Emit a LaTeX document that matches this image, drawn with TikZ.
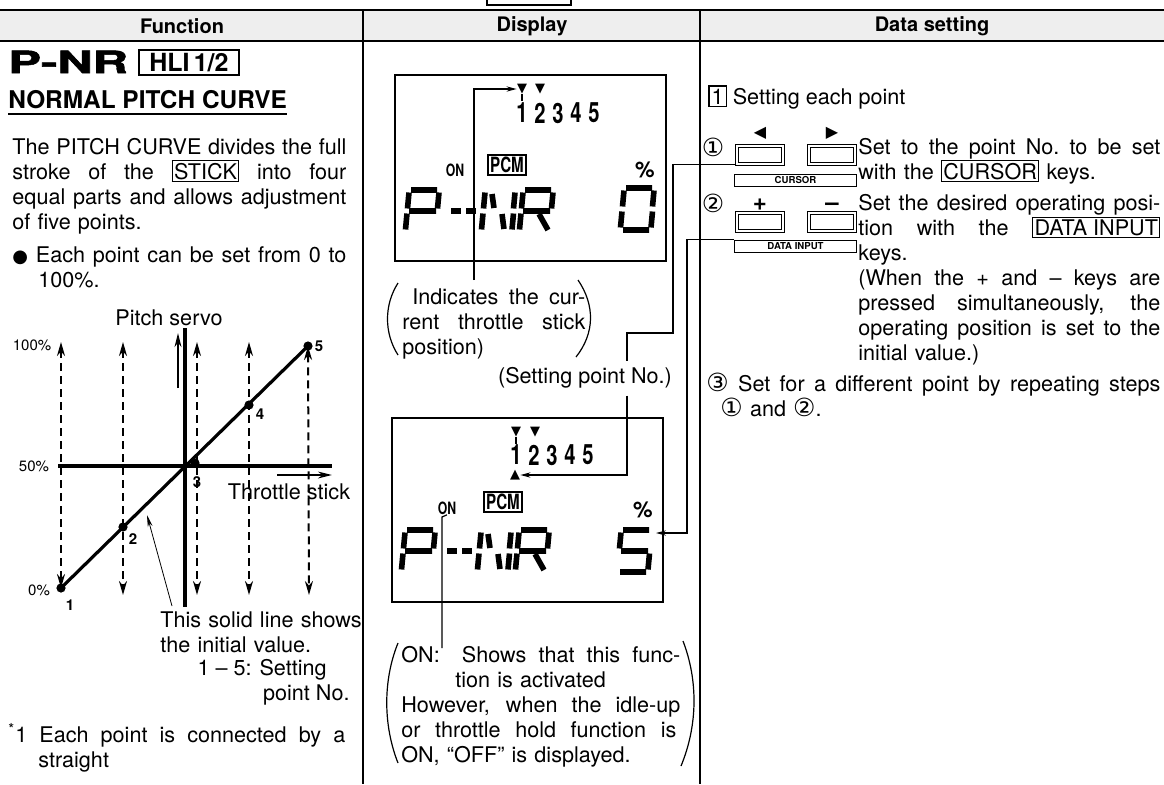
\documentclass[tikz,border=0pt]{standalone}
\usepackage{fontspec}
\setmainfont{TeX Gyre Heros}
\newfontfamily\symfont{DejaVu Sans}
\newfontfamily\blackfont{TeX Gyre Heros}[FakeBold=1.6]
\usetikzlibrary{arrows.meta,calc,positioning}

\newcommand{\keyname}[1]{{\fboxsep=0.7pt\fboxrule=0.5pt\fbox{#1}}}
\newcommand{\jline}[2]{{\spaceskip=0pt\xspaceskip=0pt\makebox[#1][s]{#2}}}
\newcommand{\narrow}[1]{\scalebox{0.72}[1]{#1}}
\newcommand{\circnum}[1]{{\symfont\fontsize{12.5}{12.5}\selectfont #1}}

% lcd segments of one glyph (34 x 42 units, y down)
\def\sga{(6,0)--(32,0)}
\def\sgb{(34,2.5)--(32.5,18.5)}
\def\sgc{(32.5,23.5)--(31,39.5)}
\def\sgd{(3,42)--(29,42)}
\def\sge{(2,23.5)--(0.5,39.5)}
\def\sgf{(4,2.5)--(2.5,18.5)}
\def\sgg{(4,21)--(31,21)}
\def\sgga{(5,21)--(15,21)}
\def\sggb{(20,21)--(30,21)}
\def\sgh{(11,4)--(13,18)}
\def\sgm{(21,24)--(23,39)}
\def\sgk{(20,24)--(29,40)}
\newcommand{\lcdchar}[3]{\draw[lcd,shift={(#1,#2)}] #3;}

\begin{document}
\begin{tikzpicture}[x=0.5pt, y=-0.5pt, >={Stealth[length=5pt,width=2.6pt]},
  font=\fontsize{10.8}{12.5}\selectfont,
  hdr/.style={font=\fontsize{10}{12}\selectfont\bfseries},
  txt/.style={anchor=base west, inner sep=0, align=left},
  colrule/.style={line width=0.8pt},
  axisline/.style={line width=1.6pt},
  dashv/.style={line width=1pt, dash pattern=on 4pt off 2.5pt,
    arrows={Stealth[length=7pt,width=4pt]-Stealth[length=7pt,width=4pt]}},
  ptlbl/.style={inner sep=0, font=\fontsize{7.5}{7.5}\selectfont\bfseries},
  pct/.style={inner sep=0, font=\fontsize{7.5}{7.5}\selectfont},
  lcd/.style={line width=2.8pt},
  lcdbox/.style={line width=0.7pt},
  lcdnum/.style={inner sep=0, font=\fontsize{14}{14}\selectfont\bfseries},
  lcdon/.style={inner sep=0, font=\fontsize{8.5}{8.5}\selectfont\bfseries},
  tri/.style={inner sep=0, font=\symfont\fontsize{6.5}{6.5}\selectfont},
  pcm/.style={draw, line width=0.8pt, inner sep=1pt, font=\fontsize{10.5}{10.5}\selectfont\bfseries},
  keybtn/.style={draw, double, double distance=1.1pt, line width=0.6pt,
    minimum width=23pt, minimum height=9pt, inner sep=0},
  keylbl/.style={draw, line width=0.5pt, minimum width=61pt, minimum height=6pt,
    inner sep=0, font=\fontsize{4.8}{5}\selectfont\bfseries},
  conn/.style={line width=0.6pt},
  paren/.style={line width=0.6pt}]
\useasboundingbox (0,0) rectangle (1164,784);

% header band and columns
\fill[gray!13] (0,10) rectangle (1164,41);
\draw[line width=1.1pt] (0,10) -- (1164,10);
\draw[line width=0.9pt] (0,41) -- (1164,41);
\draw[colrule] (363,10) -- (363,784) (700,10) -- (700,784);
\draw[line width=0.6pt] (487,-4) rectangle (571,5);
\node[hdr] (hfun) at (182,26) {Function};
\node[hdr] (hdis) at (532,26) {Display};
\node[hdr] (hdat) at (932,26) {Data setting};

% ---- Function column
\node[txt] (pnr) at (8,73) {\scalebox{1.6}[1]{\blackfont\fontsize{15.3}{15.3}\selectfont\bfseries P-NR}};
\node[draw, line width=0.7pt, inner sep=1pt, minimum height=12.5pt, minimum width=50pt] (hli) at (189,62.5)
  {\fontsize{12.5}{12.5}\selectfont\bfseries HLI\,1/2};
\node[txt] (ttl) at (8,108) {\fontsize{12.2}{12.2}\selectfont\bfseries NORMAL PITCH CURVE};
\draw[line width=0.8pt] ($(ttl.base west)+(0,6)$) -- ($(ttl.base east)+(0,6)$);
\node[txt, text width=167pt] (intro) at (12,154)
  {\jline{167pt}{The PITCH CURVE divides the full}\\
   \jline{167pt}{stroke of the \keyname{STICK} into four}\\
   \jline{167pt}{equal parts and allows adjustment}\\
   of five points.};
\node[txt, text width=167pt] (bul) at (12,262)
  {\jline{167pt}{{\symfont\fontsize{9}{9}\selectfont ●} Each point can be set from 0 to}\\ \hspace*{13pt}100\%.};

% pitch curve graph
\coordinate (p1) at (61,588);
\coordinate (p2) at (123,527);
\coordinate (p3) at (195,463);
\coordinate (p4) at (249,405);
\coordinate (p5) at (308,346);
\node (pserv) at (169,318) {Pitch servo};
\node[pct] (l100) at (32,345) {100\%};
\node[pct] (l50) at (34,466) {50\%};
\node[pct] (l0) at (39,590) {0\%};
\foreach \x in {123,197,249} \draw[dashv] (\x,342) -- (\x,595);
\draw[dashv] (61,342) -- (p1);
\draw[dashv] (p5) -- (309,595);
\draw[axisline] (185,328) -- (185,607);
\draw[axisline] (58,466) -- (332,466);
\draw[line width=1pt,-{Stealth[length=7pt,width=3.4pt]}] (178,388) -- (178,333);
\draw[line width=1pt,-{Stealth[length=7pt,width=3.4pt]}] (277,475) -- (332,475);
\draw[axisline] (p1) -- (p5);
\foreach \p in {p1,p2,p3,p4,p5} \fill (\p) circle (2.3pt);
\foreach \n/\x/\y in {1/70/605,2/133/539,3/197/482,4/260/414,5/319/346}
  \node[ptlbl] (n\n) at (\x,\y) {\n};
\node (thr) at (289,492) {Throttle stick};
\node[txt, text width=110pt] (solid) at (160,627) {This solid line shows\\the initial value.};
\coordinate (solidfoot) at (172,606);
\coordinate (solidtip) at (147,515);
\draw[line width=0.4pt,-{Stealth[length=6pt,width=2.4pt]}] (solidfoot) -- (solidtip);
\node[anchor=base east, inner sep=0] (rng) at (327,675) {1 \textendash\ 5: Setting};
\node[anchor=base east, inner sep=0] (rng2) at (350,700) {point No.};
\node[txt, text width=168.5pt] (fn) at (8,742)
  {\jline{168.5pt}{\textsuperscript{*}1 Each point is connected by a}\\ \hspace*{15pt}straight};

% ---- Display column
% upper lcd
\draw[lcdbox] (395,75) rectangle (666,261);
\node[tri] (cur1) at (522,89) {▼};
\node[tri] (cur1b) at (540,89) {▼};
\foreach \d in {1,...,5} \node[lcdnum] (a\d) at ({504+18*\d},113) {\narrow{\d}};
\draw[line width=1pt] (522,94) -- (522,101);
\node[lcdon] (on1) at (455,170) {\narrow{ON}};
\node[pcm] (pcm1) at (507,165) {\narrow{PCM}};
\node[inner sep=0, font=\fontsize{11}{11}\selectfont\bfseries] (pc1) at (645,170) {\%};
\lcdchar{405}{190}{\sga\sgf\sgb\sgg\sge}
\lcdchar{446}{190}{\sgga\sggb}
\lcdchar{481}{190}{\sgf\sge\sgb\sgc\sgh\sgm}
\lcdchar{519}{190}{\sga\sgf\sge\sgb\sgg\sgk}
\lcdchar{620}{188}{\sga\sgb\sgc\sgd\sge\sgf}

\node[txt, text width=92pt] (ind) at (402,304)
  {\hspace*{5pt}\jline{86.5pt}{Indicates the cur-}\\ \jline{91.5pt}{rent throttle stick}\\ position)};
\draw[paren] (398,283) .. controls (384,305) and (384,333) .. (398,355);
\draw[paren] (578,280) .. controls (595,305) and (595,333) .. (576,357);
\coordinate (indtop) at (474,280);
\draw[conn,->] (indtop) |- (cur1.west);

\node (setpt) at (585,378) {(Setting point No.)};

% lower lcd
\draw[lcdbox] (392,418) rectangle (663,602);
\node[tri] (cur2) at (516,432) {▼};
\node[tri] (cur2b) at (535,432) {▼};
\foreach \d in {1,...,5} \node[lcdnum] (b\d) at ({498+18*\d},455) {\narrow{\d}};
\draw[line width=1pt] (516,437) -- (516,444);
\node[tri] (up2) at (515,475) {▲};
\node[lcdon] (on2) at (447,508) {\narrow{ON}};
\node[pcm] (pcm2) at (503,502) {\narrow{PCM}};
\node[inner sep=0, font=\fontsize{11}{11}\selectfont\bfseries] (pc2) at (643,510) {\%};
\lcdchar{401}{530}{\sga\sgf\sgb\sgg\sge}
\lcdchar{442}{530}{\sgga\sggb}
\lcdchar{477}{530}{\sgf\sge\sgb\sgc\sgh\sgm}
\lcdchar{515}{530}{\sga\sgf\sge\sgb\sgg\sgk}
\lcdchar{617}{530}{\sga\sgf\sgg\sgc\sgd}

\node[txt, text width=140pt] (ontxt) at (401,662)
  {\jline{139.5pt}{ON:\hspace{5pt} Shows that this func-}\\
   \hspace*{27pt}tion is activated\\
   \jline{139.5pt}{However, when the idle-up}\\
   \jline{137.5pt}{or throttle hold function is}\\
   ON, ``OFF'' is displayed.};
\draw[paren] (398,643) .. controls (383,680) and (383,725) .. (398,763);
\draw[paren] (683,641) .. controls (698,680) and (698,725) .. (681,766);
\coordinate (onfoot) at (442,648);
\draw[conn] (onfoot) -- ++(0,-131) -- (on2.south);

% ---- Data setting column
\node[txt] (sect) at (708,104) {{\fboxsep=1pt\fboxrule=0.6pt\fbox{1}}\ Setting each point};
\node[inner sep=0] (c1) at (713,147) {\circnum{①}};
\node[keybtn] (k1) at (760,155) {};
\node[keybtn] (k2) at (832,155) {};
\node[tri, font=\symfont\fontsize{8}{8}\selectfont, above=3pt of k1] (kl) {◀};
\node[tri, font=\symfont\fontsize{8}{8}\selectfont, above=3pt of k2] (kr) {▶};
\node[keylbl] (curs) at (795.5,180) {CURSOR};
\node[txt, text width=151pt] (t1) at (858,154)
  {\jline{151pt}{Set to the point No.\ to be set}\\ with the \keyname{CURSOR} keys.};

\node[inner sep=0] (c2) at (713,203) {\circnum{②}};
\node[keybtn] (k3) at (760,222) {};
\node[keybtn] (k4) at (832,222) {};
\node[inner sep=0, font=\fontsize{12}{12}\selectfont\bfseries, above=1pt of k3] (kp) {+};
\node[inner sep=0, font=\fontsize{12}{12}\selectfont\bfseries, above=1pt of k4] (km) {\textendash};
\node[keylbl] (dbox) at (795.5,246) {DATA INPUT};
\node[txt, text width=151pt] (t2) at (858,210)
  {\jline{151pt}{Set the desired operating posi-}\\
   \jline{151pt}{tion with the \keyname{DATA INPUT}}\\
   keys.\\
   \jline{151pt}{(When the + and \textendash\ keys are}\\
   \jline{151pt}{pressed simultaneously, the}\\
   \jline{151pt}{operating position is set to the}\\
   initial value.)};
\node[txt, text width=227pt] (t3) at (706,391)
  {\jline{227pt}{\circnum{③} Set for a different point by repeating steps}\\
   \hspace*{7pt}\circnum{①} and \circnum{②}.};

% connectors from the keys to the lcd
\coordinate (cturn) at (673,333);
\coordinate (cdrop) at (627,333);
\draw[conn] (k1.south west) -| (cturn) -- (cdrop) -- (cdrop |- setpt.north);
\draw[conn,->] (cdrop |- setpt.south) |- (up2.east);
\coordinate (dturn) at (687,533);
\coordinate (g5) at (656,533);
\draw[conn,->] (dbox.north west) -| (dturn) -- (g5);
\end{tikzpicture}
\end{document}
